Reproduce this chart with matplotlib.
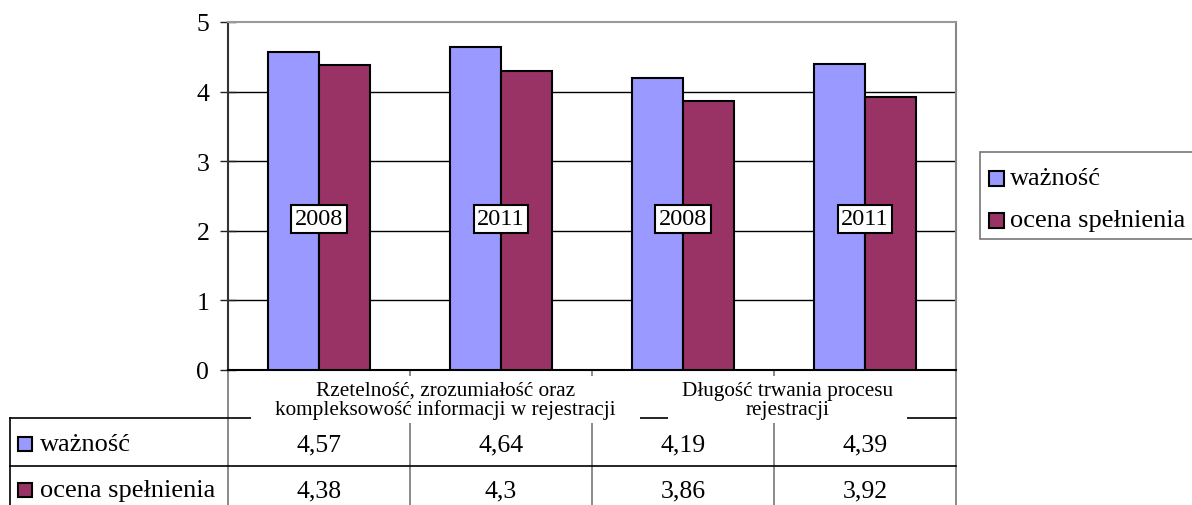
import matplotlib
matplotlib.use("Agg")
import matplotlib.pyplot as plt
from matplotlib.patches import Rectangle

# Data
categories = ["Rzetelność, zrozumiałość oraz\nkompleksowość informacji w rejestracji",
              "Długość trwania procesu\nrejestracji"]
years = ["2008", "2011", "2008", "2011"]
series_names = ["ważność", "ocena spełnienia"]
importance = [4.57, 4.64, 4.19, 4.39]
fulfilment = [4.38, 4.30, 3.86, 3.92]
year_label_level = 2.17

colors = ["#9999FF", "#993366"]
font = "Liberation Serif"
plt.rcParams["font.family"] = [font, "DejaVu Serif"]

W, H = 1192, 506
fig = plt.figure(figsize=(W / 100, H / 100), dpi=100)

# plot area in pixel terms
px_left, px_right, px_top, px_bottom = 228, 956, 23, 371
ax = fig.add_axes([px_left / W, 1 - px_bottom / H,
                   (px_right - px_left) / W, (px_bottom - px_top) / H])

n = len(importance)
xs = list(range(n))
bw = 0.28
ax.bar([x - bw / 2 for x in xs], importance, width=bw, color=colors[0],
       edgecolor="black", linewidth=1.5, zorder=3)
ax.bar([x + bw / 2 for x in xs], fulfilment, width=bw, color=colors[1],
       edgecolor="black", linewidth=1.5, zorder=3)

for x, yl in zip(xs, years):
    ax.text(x, year_label_level, yl, ha="center", va="center", fontsize=17.5,
            zorder=5,
            bbox=dict(boxstyle="square,pad=0.14", facecolor="white",
                      edgecolor="black", linewidth=1.5))

ax.set_xlim(-0.5, n - 0.5)
ax.set_ylim(0, 5)
ax.set_yticks(range(0, 6))
ax.set_yticklabels([str(v) for v in range(0, 6)], fontsize=18.5)
ax.tick_params(axis="y", direction="inout", length=12, width=1, pad=7.5,
               color="#222222")
ax.set_xticks([])
for y in range(1, 5):
    ax.axhline(y, color="black", linewidth=1, zorder=1)
ax.spines["top"].set_color("#999999")
ax.spines["top"].set_linewidth(1.5)
ax.spines["right"].set_color("#888888")
ax.spines["right"].set_linewidth(1.5)
ax.spines["left"].set_color("#333333")
ax.spines["left"].set_linewidth(1.5)
ax.spines["bottom"].set_color("black")
ax.spines["bottom"].set_linewidth(1.5)

# data table and legend, drawn on a full-figure overlay in pixel units
ov = fig.add_axes([0, 0, 1, 1], zorder=-1)
ov.set_xlim(0, W)
ov.set_ylim(H, 0)
ov.axis("off")

colw = (px_right - px_left) / n
col_edges = [px_left + i * colw for i in range(n + 1)]
col_centers = [px_left + (i + 0.5) * colw for i in range(n)]
row_top, row_mid, row_end = 419, 467, H + 5
tbl_left = 10

for xe in col_edges:
    ov.plot([xe, xe], [px_bottom, row_end], color="#777777", lw=1.2, zorder=1)
ov.plot([tbl_left, px_right], [row_top, row_top], color="black", lw=1.2, zorder=1)
ov.plot([tbl_left, px_right], [row_mid, row_mid], color="black", lw=1.2, zorder=1)
ov.plot([tbl_left, tbl_left], [row_top, row_end], color="black", lw=1.2, zorder=1)

# category header boxes (white, hiding the grid lines behind the text)
header_boxes = [(251, 640), (668, 907)]
for cat, (x0, x1) in zip(categories, header_boxes):
    ov.add_patch(Rectangle((x0, 377), x1 - x0, 47, facecolor="white",
                           edgecolor="none", zorder=2))
    ov.text((x0 + x1) / 2, 401, cat, ha="center", va="center", fontsize=15.3,
            linespacing=1.0, zorder=4)

row_centers = [445, 491]
for r, (name, vals) in enumerate(zip(series_names, [importance, fulfilment])):
    yc = row_centers[r]
    ov.add_patch(Rectangle((18, yc - 7), 14, 14, facecolor=colors[r],
                           edgecolor="black", lw=1.5, zorder=3))
    ov.text(40, yc, name, ha="left", va="center", fontsize=19, zorder=3)
    for cx, v in zip(col_centers, vals):
        ov.text(cx, yc, f"{v:g}".replace(".", ","), ha="center", va="center",
                fontsize=18.5, zorder=3)

# legend box on the right
ov.add_patch(Rectangle((980, 153), 240, 87, facecolor="white",
                       edgecolor="#777777", lw=1.2, zorder=2, clip_on=False))
legend_rows = [179, 221]
for r, (name, yc) in enumerate(zip(series_names, legend_rows)):
    ov.add_patch(Rectangle((989, yc - 7.5), 15, 15, facecolor=colors[r],
                           edgecolor="black", lw=1.5, zorder=3))
    ov.text(1010, yc, name, ha="left", va="center", fontsize=19, zorder=3)

fig.savefig("out.png", dpi=100, facecolor="white")
